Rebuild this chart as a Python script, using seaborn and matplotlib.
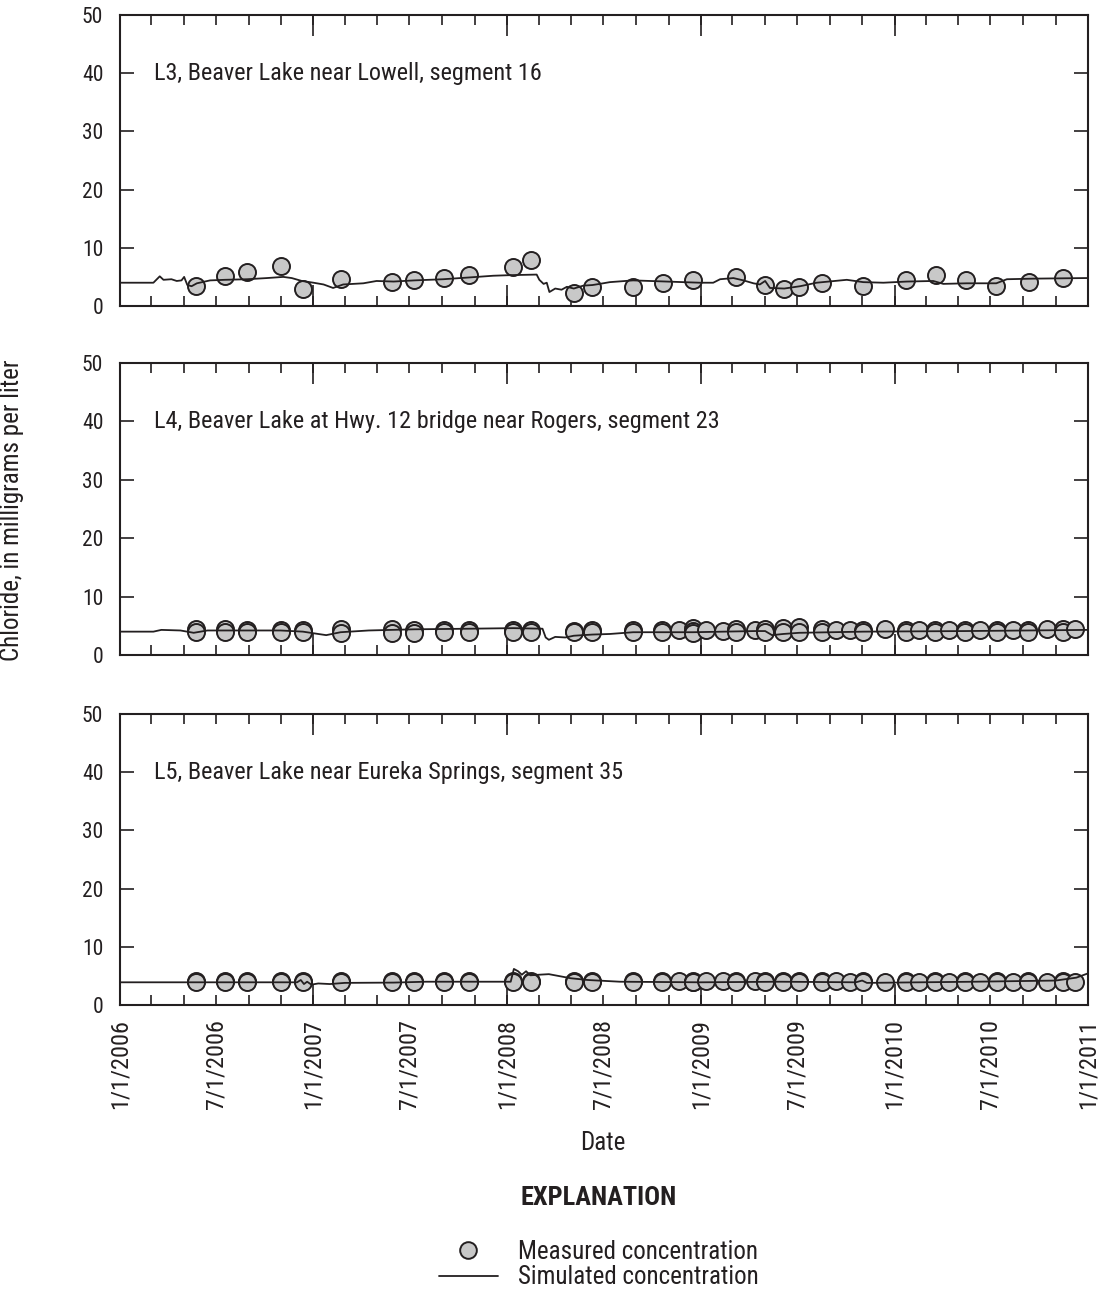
import matplotlib
matplotlib.use("Agg")
import matplotlib.pyplot as plt
import matplotlib.dates as mdates
from matplotlib.ticker import FuncFormatter
from matplotlib.lines import Line2D
import pandas as pd
import seaborn as sns

# ---------------- data ----------------
site_titles = [
    "L3, Beaver Lake near Lowell, segment 16",
    "L4, Beaver Lake at Hwy. 12 bridge near Rogers, segment 23",
    "L5, Beaver Lake near Eureka Springs, segment 35",
]

# L3 measured chloride (mg/L)
l3_dates = ["2006-05-24", "2006-07-18", "2006-08-29", "2006-10-31", "2006-12-12",
            "2007-02-21", "2007-05-30", "2007-07-10", "2007-09-05", "2007-10-21",
            "2008-01-13", "2008-02-16", "2008-05-06", "2008-06-10", "2008-08-26",
            "2008-10-21", "2008-12-17", "2009-03-08", "2009-05-02", "2009-06-07",
            "2009-07-05", "2009-08-18", "2009-11-03", "2010-01-22", "2010-03-20",
            "2010-05-15", "2010-07-11", "2010-09-12", "2010-11-15"]
l3_values = [3.4, 5.1, 5.8, 6.8, 3.0, 4.7, 4.1, 4.4, 4.8, 5.4,
             6.7, 7.9, 2.3, 3.3, 3.2, 3.9, 4.5, 4.9, 3.6, 2.9,
             3.2, 3.9, 3.5, 4.4, 5.4, 4.5, 3.5, 4.2, 4.8]

# L3 simulated chloride
l3_sim_dates = ["2006-01-01", "2006-03-05", "2006-03-17", "2006-03-24", "2006-04-08",
                "2006-04-18", "2006-04-27", "2006-05-02", "2006-05-08", "2006-05-16",
                "2006-05-26", "2006-06-20", "2006-07-18", "2006-08-29", "2006-10-05",
                "2006-11-05", "2006-11-21", "2006-12-10", "2007-01-01", "2007-01-20",
                "2007-02-07", "2007-02-26", "2007-04-05", "2007-04-30", "2007-06-01",
                "2007-07-10", "2007-09-03", "2007-10-21", "2007-12-06", "2008-01-07",
                "2008-02-26", "2008-03-02", "2008-03-10", "2008-03-16", "2008-03-21",
                "2008-04-01", "2008-04-13", "2008-04-23", "2008-05-06", "2008-05-24",
                "2008-06-10", "2008-06-24", "2008-07-13", "2008-08-26", "2008-10-28",
                "2008-12-30", "2009-01-24", "2009-02-06", "2009-03-03", "2009-03-22",
                "2009-04-10", "2009-04-22", "2009-05-02", "2009-05-11", "2009-06-07",
                "2009-07-07", "2009-08-07", "2009-10-03", "2009-11-03", "2009-12-11",
                "2010-01-24", "2010-03-15", "2010-04-03", "2010-05-17", "2010-07-12",
                "2010-08-01", "2010-09-20", "2010-12-26", "2010-12-31"]
l3_sim_values = [4.0, 4.0, 5.1, 4.5, 4.6, 4.3, 4.4, 5.0, 3.6, 3.4,
                 3.9, 4.4, 4.5, 4.6, 4.8, 5.0, 4.8, 4.3, 4.0, 3.7,
                 3.1, 3.7, 3.9, 4.3, 4.2, 4.4, 4.6, 4.9, 5.2, 5.3,
                 5.4, 4.5, 3.8, 4.0, 2.4, 3.0, 2.8, 3.3, 3.0, 3.5,
                 3.6, 3.8, 4.1, 4.4, 4.2, 4.0, 4.0, 4.6, 4.8, 4.4,
                 3.9, 3.7, 4.3, 3.1, 3.0, 3.4, 4.0, 4.5, 4.1, 4.0,
                 4.2, 4.3, 3.8, 3.9, 3.9, 4.6, 4.7, 4.8, 4.8]

# L4 measured chloride (several depths per sampling date)
l4_dates = ["2006-05-24", "2006-05-24", "2006-07-18", "2006-07-18", "2006-08-29", "2006-08-29",
            "2006-10-31", "2006-10-31", "2006-12-12", "2006-12-12", "2007-02-21", "2007-02-21",
            "2007-05-30", "2007-05-30", "2007-07-10", "2007-07-10", "2007-09-05", "2007-09-05",
            "2007-10-21", "2007-10-21", "2008-01-13", "2008-01-13", "2008-02-16", "2008-02-16",
            "2008-05-06", "2008-05-06", "2008-06-10", "2008-06-10", "2008-08-26", "2008-08-26",
            "2008-10-19", "2008-10-19", "2008-11-20", "2008-12-17", "2008-12-17", "2008-12-17",
            "2009-01-10", "2009-02-11", "2009-03-08", "2009-03-08", "2009-04-13",
            "2009-05-02", "2009-05-02", "2009-06-05", "2009-06-05", "2009-07-05", "2009-07-05",
            "2009-08-17", "2009-08-17", "2009-09-13", "2009-10-09", "2009-11-03", "2009-11-03",
            "2009-12-14", "2010-01-23", "2010-01-23", "2010-02-16", "2010-03-18", "2010-03-18",
            "2010-04-14", "2010-05-14", "2010-05-14", "2010-06-11", "2010-07-13", "2010-07-13",
            "2010-08-13", "2010-09-10", "2010-09-10", "2010-10-16", "2010-11-15", "2010-11-15",
            "2010-12-07"]
l4_values = [4.4, 3.9, 4.5, 4.0, 4.3, 4.0,
             4.3, 3.9, 4.3, 3.9, 4.5, 3.7,
             4.4, 3.7, 4.3, 3.8, 4.3, 3.9,
             4.3, 4.0, 4.3, 4.0, 4.3, 4.0,
             4.1, 3.9, 4.2, 3.9, 4.2, 3.9,
             4.3, 3.9, 4.2, 4.7, 4.1, 3.8,
             4.2, 4.1, 4.4, 3.9, 4.3,
             4.4, 4.0, 4.6, 4.0, 4.8, 4.0,
             4.5, 4.0, 4.3, 4.3, 4.2, 3.9,
             4.4, 4.2, 3.9, 4.3, 4.3, 3.9,
             4.2, 4.2, 3.9, 4.3, 4.2, 3.9,
             4.3, 4.3, 4.0, 4.5, 4.4, 4.0,
             4.5]

# L4 simulated chloride
l4_sim_dates = ["2006-01-01", "2006-03-05", "2006-03-20", "2006-04-25", "2006-05-20",
                "2006-06-15", "2006-10-31", "2006-12-12", "2007-01-10", "2007-01-25",
                "2007-02-21", "2007-04-15", "2007-07-10", "2007-10-21", "2008-01-13",
                "2008-03-08", "2008-03-14", "2008-03-20", "2008-04-01", "2008-04-20",
                "2008-05-06", "2008-06-10", "2008-07-13", "2008-08-26", "2008-12-17",
                "2009-04-13", "2009-05-02", "2009-05-15", "2009-06-05", "2009-07-05",
                "2009-11-03", "2010-05-14", "2010-09-10", "2010-12-31"]
l4_sim_values = [4.0, 4.0, 4.3, 4.2, 3.8, 4.2, 4.2, 4.0, 3.6, 3.4,
                 3.9, 4.2, 4.4, 4.5, 4.6, 4.5, 3.0, 2.6, 3.1, 3.0,
                 3.3, 3.5, 3.6, 3.9, 3.9, 4.1, 4.1, 3.4, 3.6, 3.8,
                 4.0, 4.1, 4.2, 4.3]

# L5 measured chloride
l5_dates = l4_dates
l5_values = [4.1, 3.9, 4.1, 3.9, 4.1, 3.9,
             4.1, 3.9, 4.2, 3.9, 4.1, 3.9,
             4.1, 3.9, 4.1, 3.9, 4.1, 3.9,
             4.1, 3.9, 4.1, 3.9, 4.1, 3.9,
             4.1, 3.9, 4.1, 3.9, 4.1, 3.9,
             4.1, 3.9, 4.1, 4.2, 4.0, 3.9,
             4.1, 4.1, 4.1, 3.9, 4.1,
             4.1, 3.9, 4.1, 3.9, 4.1, 3.9,
             4.1, 3.9, 4.1, 4.0, 4.1, 3.9,
             4.0, 4.1, 3.9, 4.0, 4.1, 3.9,
             4.0, 4.1, 3.9, 4.0, 4.1, 3.9,
             4.0, 4.1, 3.9, 4.0, 4.1, 3.9,
             4.0]

# L5 simulated chloride
l5_sim_dates = ["2006-01-01", "2006-12-01", "2006-12-08", "2006-12-14", "2006-12-20",
                "2006-12-28", "2007-01-10", "2007-02-01", "2007-03-01", "2007-06-01",
                "2007-08-01", "2008-01-08", "2008-01-14", "2008-01-22", "2008-01-29",
                "2008-02-06", "2008-02-14", "2008-03-01", "2008-03-20", "2008-04-30",
                "2008-06-01", "2008-08-01", "2008-12-31", "2009-06-01", "2009-10-20",
                "2009-11-01", "2009-11-10", "2010-06-01", "2010-11-01", "2010-12-10",
                "2010-12-31"]
l5_sim_values = [3.9, 3.9, 4.3, 3.6, 4.0, 3.5, 3.7, 3.6, 3.8, 3.85,
                 4.0, 4.0, 6.2, 5.8, 5.2, 5.8, 5.1, 5.2, 5.3, 4.6,
                 4.3, 4.0, 3.9, 4.0, 3.9, 4.2, 3.8, 4.0, 4.2, 4.7,
                 5.4]

measured = [(l3_dates, l3_values), (l4_dates, l4_values), (l5_dates, l5_values)]
simulated = [(l3_sim_dates, l3_sim_values), (l4_sim_dates, l4_sim_values),
             (l5_sim_dates, l5_sim_values)]

y_ticks = [0, 10, 20, 30, 40, 50]

# ---------------- style ----------------
INK = "#231f20"
FILL = "#c8c8c8"
FS_TEXT = 18
FS_TITLE = 17.5
FS_YTICK = 15.5
FS_XTICK = 17.5

sns.set_theme(style="ticks")
plt.rcParams["font.family"] = ["Roboto Condensed", "Archivo Narrow", "PT Sans Narrow",
                               "DejaVu Sans"]
plt.rcParams.update({
    "text.color": INK,
    "axes.edgecolor": INK,
    "axes.labelcolor": INK,
    "xtick.color": INK,
    "ytick.color": INK,
})

W, H = 1104, 1304
fig = plt.figure(figsize=(W / 100, H / 100), dpi=100)

left_px, right_px = 120, 1088
panels_px = [(15, 306), (363, 655), (714, 1005)]


def date_label(v, pos):
    d = mdates.num2date(v)
    if d.month in (1, 7):
        return f"{d.month}/{d.day}/{d.year}"
    return ""


for i, (top, bot) in enumerate(panels_px):
    ax = fig.add_axes([left_px / W, 1 - bot / H, (right_px - left_px) / W, (bot - top) / H])

    md, mv = measured[i]
    sd, sv = simulated[i]
    mdf = pd.DataFrame({"date": pd.to_datetime(md), "value": mv})
    sdf = pd.DataFrame({"date": pd.to_datetime(sd), "value": sv})

    sns.scatterplot(data=mdf, x="date", y="value", ax=ax, s=150, color=FILL,
                    edgecolor=INK, linewidth=1.4, zorder=3, legend=False)
    sns.lineplot(data=sdf, x="date", y="value", ax=ax, color=INK, lw=1.3,
                 estimator=None, sort=False, zorder=4, legend=False)

    ax.set_xlim(pd.Timestamp("2006-01-01"), pd.Timestamp("2011-01-01"))
    ax.set_ylim(0, 50)
    ax.set_yticks(y_ticks)
    ax.set_xlabel("")
    ax.set_ylabel("")

    # two-month ticks, with longer marks at each new year
    ax.xaxis.set_major_locator(mdates.MonthLocator(bymonth=[1, 3, 5, 7, 9, 11]))
    ax.xaxis.set_minor_locator(mdates.YearLocator())
    ax.xaxis.remove_overlapping_locs = False
    ax.tick_params(axis="x", which="major", direction="in", length=7, width=1.2,
                   top=True, bottom=True, labelsize=FS_XTICK, labelrotation=90, pad=10)
    ax.tick_params(axis="x", which="minor", direction="in", length=15, width=1.2,
                   top=True, bottom=True)
    ax.tick_params(axis="y", which="major", direction="in", length=10, width=1.2,
                   left=True, right=True, labelsize=FS_YTICK, pad=12)
    if i == 2:
        ax.xaxis.set_major_formatter(FuncFormatter(date_label))
    else:
        ax.tick_params(axis="x", labelbottom=False)

    for sp in ax.spines.values():
        sp.set_visible(True)
        sp.set_linewidth(1.5)
        sp.set_color(INK)

    ax.text(34 / (right_px - left_px), 0.8, site_titles[i], transform=ax.transAxes,
            fontsize=FS_TITLE, va="center", ha="left", color=INK)

fig.text(12 / W, 1 - 510 / H, "Chloride, in milligrams per liter", rotation=90,
         ha="center", va="center", fontsize=FS_TEXT)
fig.text(603 / W, 1 - 1143 / H, "Date", ha="center", va="center", fontsize=FS_TEXT)
fig.text(599 / W, 1 - 1198 / H, "EXPLANATION", ha="center", va="center",
         fontsize=19, fontweight="bold")

handles = [
    Line2D([], [], ls="none", marker="o", markersize=12, markerfacecolor=FILL,
           markeredgecolor=INK, markeredgewidth=1.4),
    Line2D([], [], color=INK, lw=1.3),
]
fig.legend(handles=handles, labels=["Measured concentration", "Simulated concentration"],
           loc="upper left", bbox_to_anchor=(439 / W, 1 - 1240 / H), frameon=False,
           borderpad=0, borderaxespad=0, handlelength=2.35, handletextpad=0.8,
           labelspacing=0.05, fontsize=FS_TEXT)

fig.savefig("out.png", dpi=100)
